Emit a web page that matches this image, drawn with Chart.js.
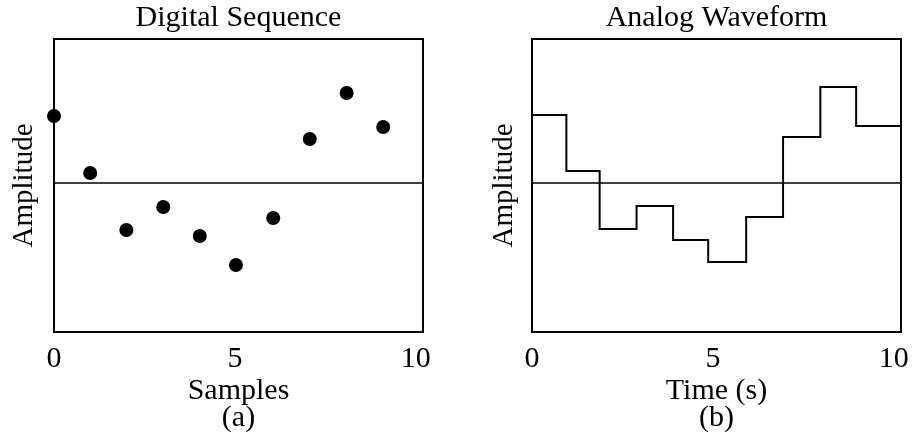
<!DOCTYPE html>
<html>
<head>
<meta charset="utf-8">
<script src="https://cdn.jsdelivr.net/npm/chart.js@4.4.0/dist/chart.umd.min.js"></script>
<style>
  html, body { margin: 0; padding: 0; background: #fff; }
  #wrap { position: relative; width: 912px; height: 442px; }
  .panel { position: absolute; top: 0; width: 456px; height: 442px; }
</style>
</head>
<body>
<div id="wrap">
  <div class="panel" style="left:0"><canvas id="digital"></canvas></div>
  <div class="panel" style="left:456px"><canvas id="analog"></canvas></div>
</div>
<script>
//! Samples (a)
const sampleX = [0, 1.0, 2.0, 3.02, 4.03, 5.03, 6.06, 7.07, 8.09, 9.1];
const sampleY = [0.67, 0.10, -0.47, -0.24, -0.53, -0.82, -0.35, 0.44, 0.90, 0.56];

//! Waveform (b): edges of each step, and the level held on it
const stepEdges = [0, 0.95, 1.87, 2.89, 3.9, 4.87, 5.92, 6.94, 7.97, 8.96, 10.2];
const stepLevels = [0.68, 0.12, -0.46, -0.23, -0.57, -0.79, -0.34, 0.46, 0.96, 0.57];

//! Axes
const xTicks = [0, 5, 10];
const xMax = 10.2;
const zeroLineX = [0, 10.2];
const yMin = -1.49;
const yMax = 1.44;

const FONT = "'Liberation Serif', 'Times New Roman', serif";
Chart.defaults.color = '#000';
Chart.defaults.font.family = FONT;

// black box round the plot area
const framePlugin = {
  id: 'frame',
  beforeDatasetsDraw(chart) {
    const a = chart.chartArea;
    const c = chart.ctx;
    c.save();
    c.strokeStyle = '#000';
    c.lineWidth = 2;
    c.strokeRect(a.left, a.top, a.right - a.left, a.bottom - a.top);
    c.restore();
  }
};

function makeScales(title, xLabel, yWidth, yTitlePad) {
  return {
    x: {
      type: 'linear',
      min: 0,
      max: xMax,
      grid: { display: false },
      border: { display: false },
      ticks: { padding: 1.2, font: { size: 30 } },
      afterBuildTicks: s => { s.ticks = xTicks.map(v => ({ value: v })); },
      afterFit: s => { s.height = 110; s.paddingLeft = 0; s.paddingRight = 0; },
      title: {
        display: true,
        text: xLabel,
        font: { size: 30, lineHeight: 0.9 },
        padding: { top: 0, bottom: 10 }
      }
    },
    top: {
      type: 'linear',
      position: 'top',
      min: 0,
      max: xMax,
      grid: { display: false },
      border: { display: false },
      ticks: { display: false },
      afterFit: s => { s.height = 39; s.paddingLeft = 0; s.paddingRight = 0; },
      title: {
        display: true,
        text: title,
        font: { size: 30, lineHeight: 1.14 },
        padding: { top: 1.5, bottom: 0 }
      }
    },
    y: {
      type: 'linear',
      min: yMin,
      max: yMax,
      grid: { display: false },
      border: { display: false },
      ticks: { display: false },
      afterFit: s => { s.width = yWidth; },
      title: {
        display: true,
        text: 'Amplitude',
        font: { size: 29, lineHeight: 1.2 },
        padding: { top: yTitlePad, bottom: 0 }
      }
    }
  };
}

const zeroLine = {
  type: 'line',
  data: zeroLineX.map(x => ({ x: x, y: 0 })),
  borderColor: '#000',
  borderWidth: 1.6,
  pointRadius: 0,
  xAxisID: 'x'
};

//! Digital sequence
new Chart(document.getElementById('digital'), {
  type: 'scatter',
  data: {
    datasets: [
      zeroLine,
      {
        data: sampleX.map((x, i) => ({ x: x, y: sampleY[i] })),
        backgroundColor: '#000',
        borderColor: '#000',
        borderWidth: 0,
        pointRadius: 7,
        clip: false
      }
    ]
  },
  options: {
    responsive: true,
    maintainAspectRatio: false,
    animation: false,
    layout: { padding: { left: 0, right: 33, top: 0, bottom: 0 } },
    plugins: { legend: { display: false }, tooltip: { enabled: false } },
    scales: makeScales('Digital Sequence', ['Samples', '(a)'], 54, 7)
  },
  plugins: [framePlugin]
});

//! Analog waveform
const stepPoints = stepEdges.map((x, i) => ({ x: x, y: stepLevels[Math.min(i, stepLevels.length - 1)] }));

new Chart(document.getElementById('analog'), {
  type: 'line',
  data: {
    datasets: [
      zeroLine,
      {
        data: stepPoints,
        stepped: true,
        borderColor: '#000',
        borderWidth: 2,
        borderJoinStyle: 'miter',
        pointRadius: 0,
        fill: false
      }
    ]
  },
  options: {
    responsive: true,
    maintainAspectRatio: false,
    animation: false,
    layout: { padding: { left: 0, right: 11, top: 0, bottom: 0 } },
    plugins: { legend: { display: false }, tooltip: { enabled: false } },
    scales: makeScales('Analog Waveform', ['Time (s)', '(b)'], 76, 31)
  },
  plugins: [framePlugin]
});
</script>
</body>
</html>
